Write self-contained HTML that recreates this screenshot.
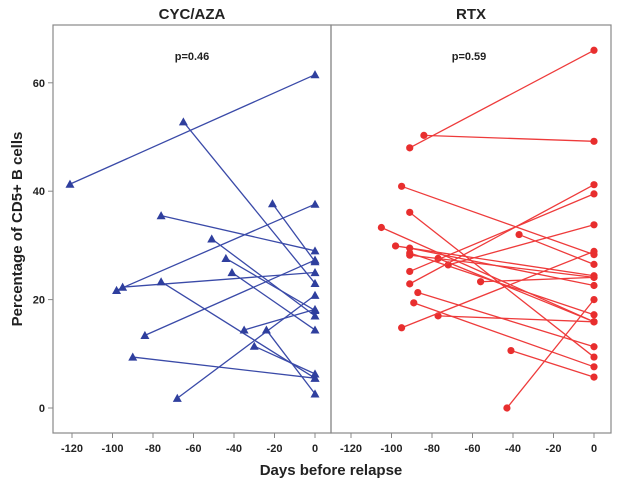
<!DOCTYPE html>
<html><head><meta charset="utf-8"><style>
body{margin:0;background:#fff;width:621px;height:485px;overflow:hidden}
text{font-family:"Liberation Sans",Arial,sans-serif;font-weight:bold;fill:#222}
</style></head><body>
<svg id="c" width="621" height="485" viewBox="0 0 621 485" xmlns="http://www.w3.org/2000/svg"></svg>
<script>
const xTicks=[-120,-100,-80,-60,-40,-20,0];
const yTicks=[0,20,40,60];
const panelTitles=["CYC/AZA","RTX"];
const pValues=["p=0.46","p=0.59"];
const cycStartDay=[-121,-65,-98,-76,-51,-44,-41,-95,-76,-84,-90,-68,-35,-24,-30,-21];
const cycStartVal=[41.3,52.8,21.7,35.5,31.2,27.6,25,22.3,23.3,13.4,9.4,1.8,14.4,14.4,11.4,37.7];
const cycEndVal=[61.5,23,37.6,29,17,18,14.4,25,5.5,27.3,5.5,20.8,18.2,2.6,6.3,27];
const rtxStartDay=[-91,-84,-95,-91,-105,-98,-91,-91,-91,-77,-72,-91,-91,-56,-37,-87,-89,-77,-95,-41,-43];
const rtxStartVal=[48,50.3,40.9,36.1,33.3,29.9,29.5,28.6,28.2,27.6,26.4,25.2,22.9,23.3,32,21.3,19.4,17,14.8,10.6,0];
const rtxEndVal=[66,49.2,28.3,9.4,15.9,24.4,22.6,17.2,24.1,15.9,33.8,39.5,41.2,24.1,26.5,11.3,7.6,15.9,28.9,5.7,20];

const svg=document.getElementById('c');
const NS="http://www.w3.org/2000/svg";
function el(t,a,txt){const e=document.createElementNS(NS,t);for(const k in a)e.setAttribute(k,a[k]);if(txt!==undefined)e.textContent=txt;svg.appendChild(e);return e;}
const panels=[{x0:53,x1:331,zero:315},{x0:331,x1:611,zero:594}];
const yTop=25,yBot=433;
const sx=2.025;
function yS(v){return 408-v*5.42;}
panels.forEach((p,i)=>{
  const r=el('rect',{x:p.x0,y:yTop,width:p.x1-p.x0,height:yBot-yTop,fill:'none',stroke:'#888','stroke-width':1.2});
  
  
  const t=el('text',{x:(p.x0+p.x1)/2,y:19,'text-anchor':'middle','font-size':15},panelTitles[i]);
  
  
  const pv=el('text',{x:(p.x0+p.x1)/2-(i?2:0),y:60,'text-anchor':'middle','font-size':11},pValues[i]);
  
  
  xTicks.forEach(d=>{
    const x=p.zero+d*sx;
    const tk=el('line',{x1:x,x2:x,y1:yBot,y2:yBot+5,stroke:'#888'});
    
    
    const tl=el('text',{x:x,y:452,'text-anchor':'middle','font-size':11},String(d));
    
    
  });
});
yTicks.forEach(v=>{
  const y=yS(v);
  const tk=el('line',{x1:48,x2:53,y1:y,y2:y,stroke:'#888'});
  
  
  const tl=el('text',{x:45,y:y+4,'text-anchor':'end','font-size':11},String(v));
  
  
});
const yl=el('text',{x:22,y:229,'text-anchor':'middle','font-size':15,transform:'rotate(-90 22 229)'},'Percentage of CD5+ B cells');


const xl=el('text',{x:331,y:475,'text-anchor':'middle','font-size':15},'Days before relapse');



function tri(x,y,c){const s=4.5;const e=el('polygon',{points:`${x},${y-s} ${x-s},${y+s*0.8} ${x+s},${y+s*0.8}`,fill:c});return e;}
cycStartDay.forEach((d,i)=>{
  const p=panels[0];
  const x0=p.zero+d*sx,y0=yS(cycStartVal[i]),x1=p.zero,y1=yS(cycEndVal[i]);
  const l=el('line',{x1:x0,y1:y0,x2:x1,y2:y1,stroke:'#3a4aa8','stroke-width':1.3});
  
  
  const a=tri(x0,y0,'#2f3f9e');
  
  
  const b=tri(x1,y1,'#2f3f9e');
  
  
});
rtxStartDay.forEach((d,i)=>{
  const p=panels[1];
  const x0=p.zero+d*sx,y0=yS(rtxStartVal[i]),x1=p.zero,y1=yS(rtxEndVal[i]);
  const l=el('line',{x1:x0,y1:y0,x2:x1,y2:y1,stroke:'#ee3b3b','stroke-width':1.3});
  
  
  const a=el('circle',{cx:x0,cy:y0,r:3.6,fill:'#e82e2e'});
  
  
  const b=el('circle',{cx:x1,cy:y1,r:3.6,fill:'#e82e2e'});
  
  
});
</script>
</body></html>
